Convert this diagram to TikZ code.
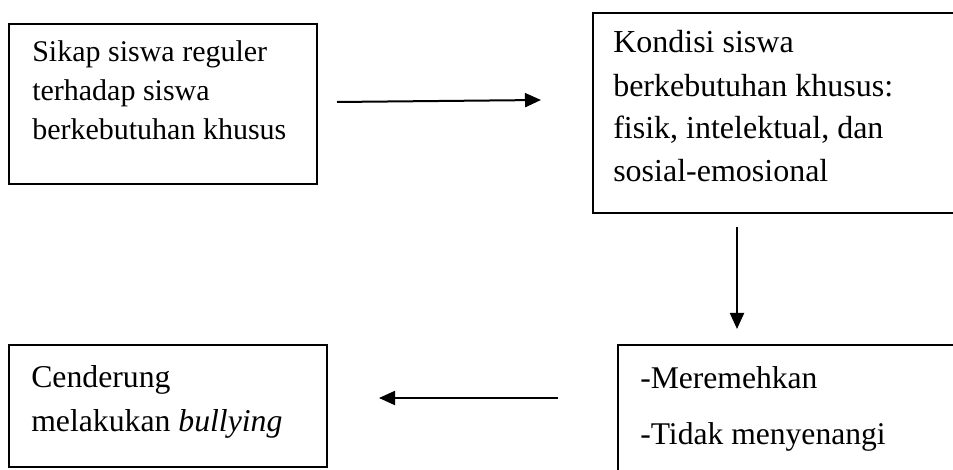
\documentclass[tikz,border=0pt]{standalone}
\usepackage{fontspec}
\setmainfont{Liberation Serif}
\usetikzlibrary{arrows.meta,fit}
\tikzset{
  boxst/.style={draw=black, line width=1.2pt, inner sep=0pt, fill=none},
  txtone/.style={anchor=base west, inner sep=0pt, font=\fontsize{22.5}{27}\selectfont},
  txttwo/.style={anchor=base west, inner sep=0pt, font=\fontsize{24}{29}\selectfont},
  txtthree/.style={anchor=base west, inner sep=0pt, font=\fontsize{23.8}{28}\selectfont},
  txtfour/.style={anchor=base west, inner sep=0pt, font=\fontsize{23.7}{28}\selectfont},
  arr/.style={line width=1.5pt, -{Triangle[length=12pt,width=10.5pt]}}
}
\begin{document}
\begin{tikzpicture}[x=0.75pt,y=-0.75pt]
\useasboundingbox (0,0) rectangle (953,470);
\fill[white] (0,0) rectangle (953,470);
% boxes
\node[boxst, fit={(9,24)(317,184)}] (b1) {};
\node[boxst, fit={(593,13)(1000,213)}] (b2) {};
\node[boxst, fit={(9,345)(327,467)}] (b3) {};
\node[boxst, fit={(618,345)(1000,520)}] (b4) {};
% texts box 1
\node[txtone] (t1a) at (32,62) {Sikap siswa reguler};
\node[txtone] (t1b) at (32,101) {terhadap siswa};
\node[txtone] (t1c) at (32,140) {berkebutuhan khusus};
% texts box 2
\node[txttwo] (t2a) at (613,53) {Kondisi siswa};
\node[txttwo] (t2b) at (613,97) {berkebutuhan khusus:};
\node[txttwo] (t2c) at (613,139) {fisik, intelektual, dan};
\node[txttwo] (t2d) at (613,182) {sosial-emosional};
% texts box 3
\node[txtthree] (t3a) at (31,387) {Cenderung};
\node[txtthree] (t3b) at (31,431) {melakukan \textit{bullying}};
% texts box 4
\node[txtfour] (t4a) at (640,388) {-Meremehkan};
\node[txtfour] (t4b) at (640,444) {-Tidak menyenangi};
% arrow ends
\coordinate (a1s) at (337,102);
\coordinate (a1e) at (541,100);
\coordinate (a2s) at (737,227);
\coordinate (a2e) at (737,329);
\coordinate (a3s) at (558,398);
\coordinate (a3e) at (379,398);
\draw[arr] (a1s) -- (a1e);
\draw[arr] (a2s) -- (a2e);
\draw[arr] (a3s) -- (a3e);
\end{tikzpicture}
\end{document}
